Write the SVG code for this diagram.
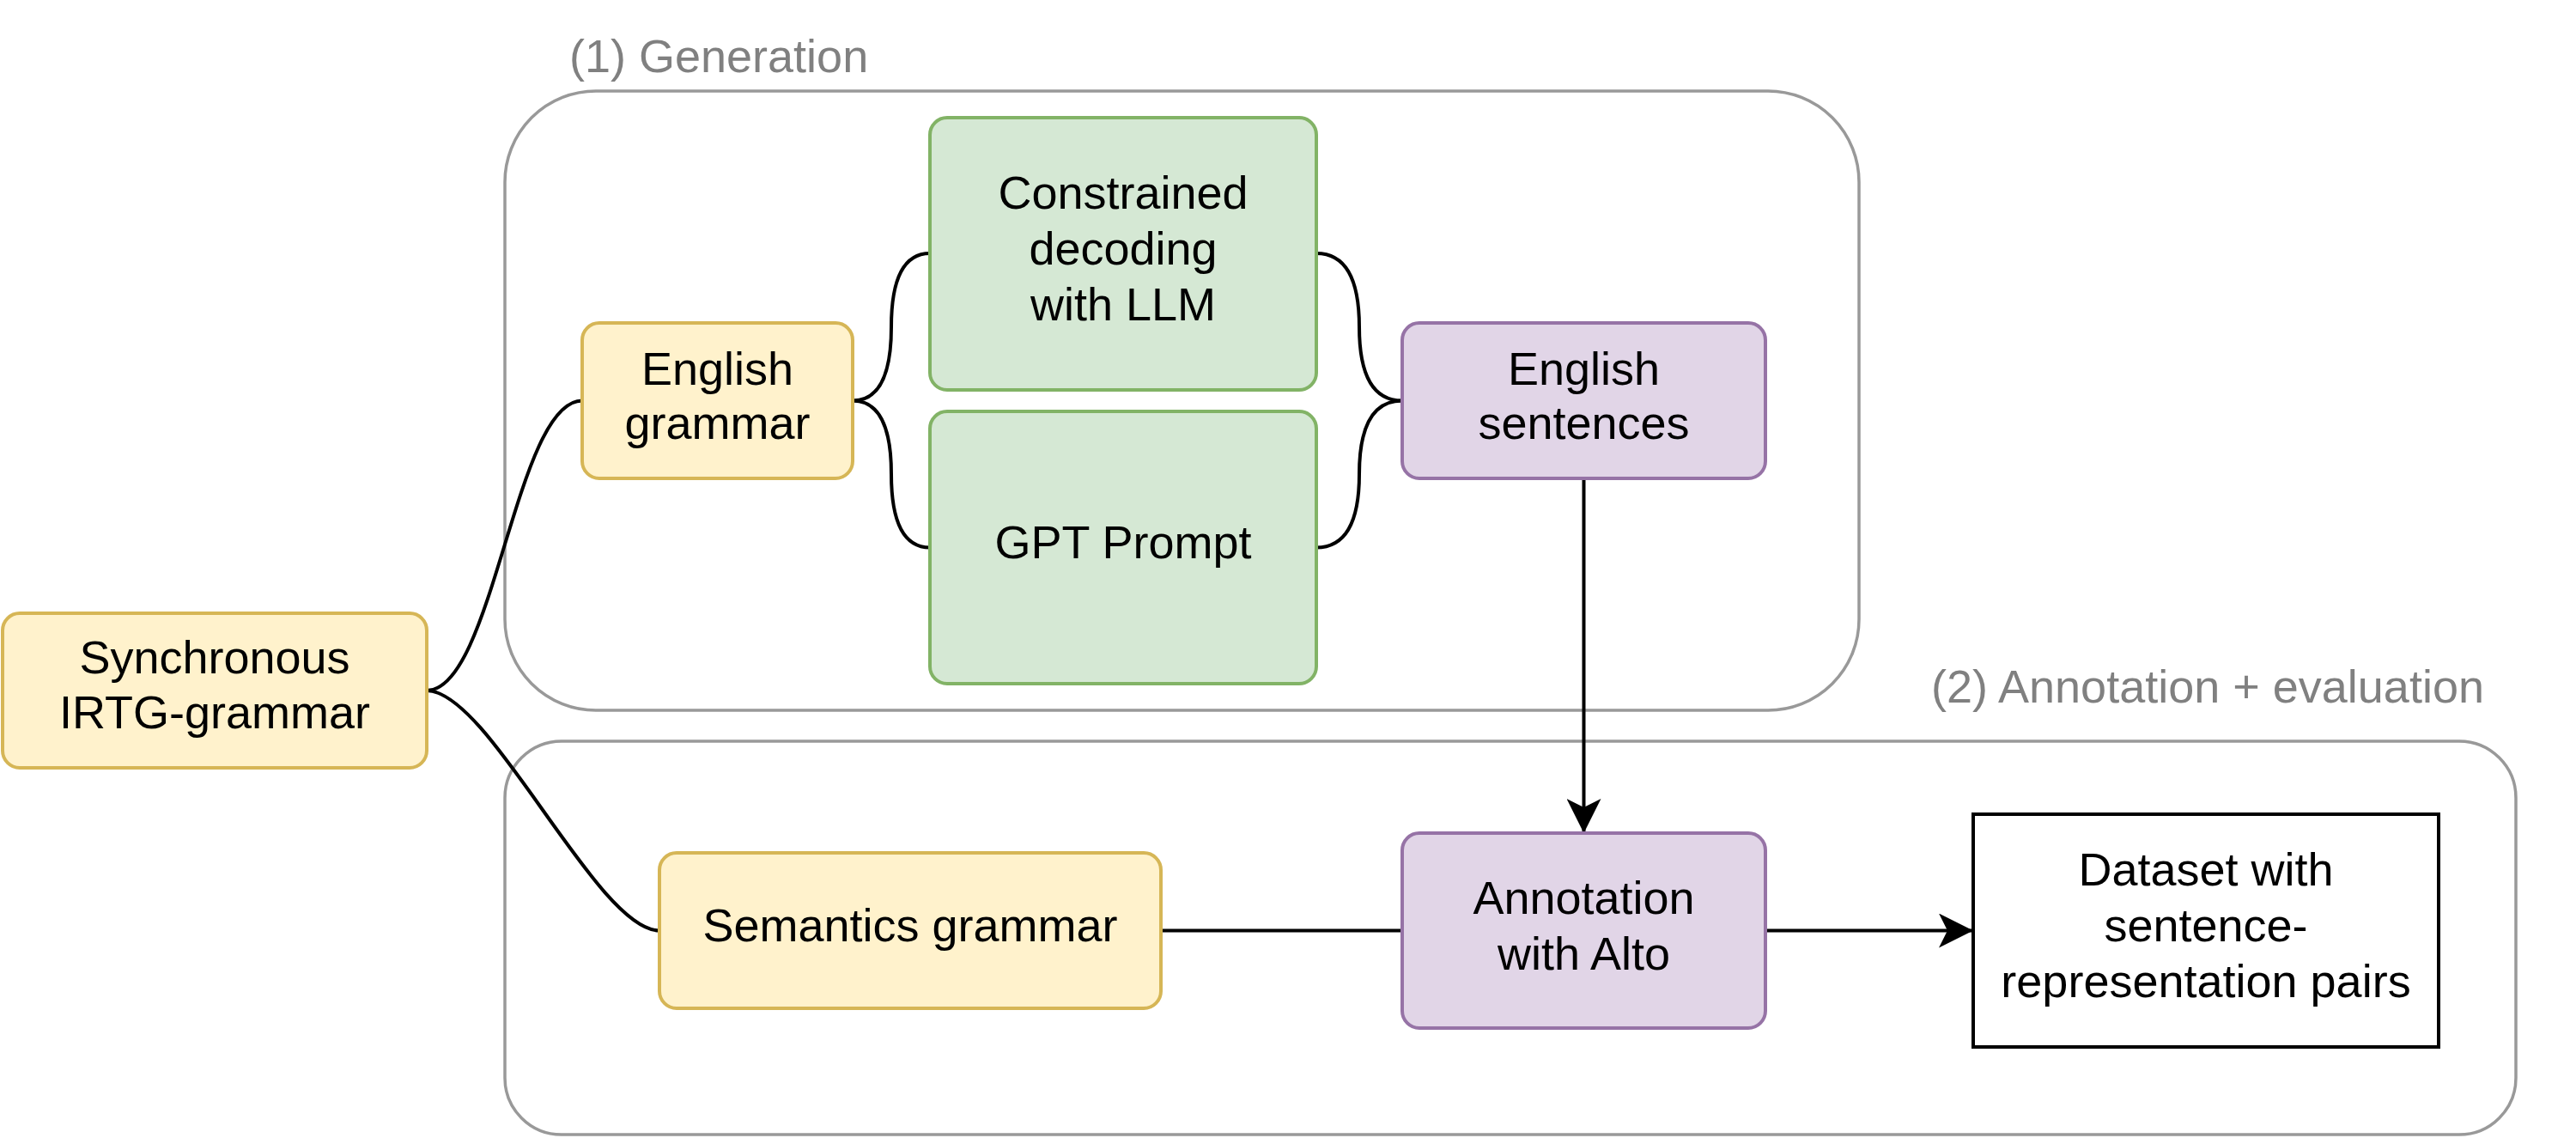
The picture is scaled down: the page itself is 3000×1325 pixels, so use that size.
<svg xmlns="http://www.w3.org/2000/svg" width="3000" height="1325" viewBox="0 0 3000 1325">
<defs>
<style>
text{font-family:"Liberation Sans",Arial,Helvetica,sans-serif;font-size:54px}
.t{fill:#000000;text-anchor:middle}
.g{fill:#808080}
.cont{fill:none;stroke:#999999;stroke-width:3.5}
.yel{fill:#fff2cc;stroke:#d6b656;stroke-width:4}
.grn{fill:#d5e8d4;stroke:#82b366;stroke-width:4}
.pur{fill:#e1d5e7;stroke:#9673a6;stroke-width:4}
.wht{fill:#ffffff;stroke:#000000;stroke-width:4}
.edge{fill:none;stroke:#000000;stroke-width:4}
</style>
<marker id="arr" markerUnits="userSpaceOnUse" markerWidth="40" markerHeight="40" viewBox="0 0 40 40" refX="40" refY="20" orient="auto">
<path d="M0,0 L40,20 L0,40 L10,20 Z" fill="#000000"/>
</marker>
</defs>
<rect width="3000" height="1325" fill="#ffffff"/>

<g id="generation">
<rect class="cont" x="588" y="106" width="1577" height="721" rx="106" ry="106"/>
<text class="g" x="663" y="84">(1) Generation</text>
</g>
<g id="annotation-evaluation">
<rect class="cont" x="588" y="863" width="2342" height="458" rx="66" ry="66"/>
<text class="g" x="2249" y="818">(2) Annotation + evaluation</text>
</g>

<g id="connectors">
<path class="edge" d="M497,804 C575,804 600,466.5 678,466.5"/>
<path class="edge" d="M497,804 C570,804 695,1083.5 768,1083.5"/>
<path class="edge" d="M993,466.5 Q1038,466.5 1038,380.75 Q1038,295 1083,295"/>
<path class="edge" d="M993,466.5 Q1038,466.5 1038,552 Q1038,637.5 1083,637.5"/>
<path class="edge" d="M1533,295 Q1583,295 1583,380.75 Q1583,466.5 1633,466.5"/>
<path class="edge" d="M1533,637.5 Q1583,637.5 1583,552 Q1583,466.5 1633,466.5"/>
<path class="edge" d="M1844.5,557 L1844.5,970" marker-end="url(#arr)"/>
<path class="edge" d="M1352,1083.5 L1633,1083.5"/>
<path class="edge" d="M2056,1083.5 L2298,1083.5" marker-end="url(#arr)"/>
</g>

<g id="synchronous-irtg-grammar">
<rect class="yel" x="3" y="714" width="494" height="180" rx="20" ry="20"/>
<text class="t" x="250" y="784">Synchronous</text>
<text class="t" x="250" y="848">IRTG-grammar</text>
</g>
<g id="english-grammar">
<rect class="yel" x="678" y="376" width="315" height="181" rx="20" ry="20"/>
<text class="t" x="835.5" y="448">English</text>
<text class="t" x="835.5" y="511">grammar</text>
</g>
<g id="constrained-decoding">
<rect class="grn" x="1083" y="137" width="450" height="317" rx="20" ry="20"/>
<text class="t" x="1308" y="243">Constrained</text>
<text class="t" x="1308" y="308">decoding</text>
<text class="t" x="1308" y="373">with LLM</text>
</g>
<g id="gpt-prompt">
<rect class="grn" x="1083" y="479" width="450" height="317" rx="20" ry="20"/>
<text class="t" x="1308" y="650">GPT Prompt</text>
</g>
<g id="english-sentences">
<rect class="pur" x="1633" y="376" width="423" height="181" rx="20" ry="20"/>
<text class="t" x="1844.5" y="448">English</text>
<text class="t" x="1844.5" y="511">sentences</text>
</g>
<g id="semantics-grammar">
<rect class="yel" x="768" y="993" width="584" height="181" rx="20" ry="20"/>
<text class="t" x="1060" y="1096">Semantics grammar</text>
</g>
<g id="annotation-alto">
<rect class="pur" x="1633" y="970" width="423" height="227" rx="20" ry="20"/>
<text class="t" x="1844.5" y="1064">Annotation</text>
<text class="t" x="1844.5" y="1129">with Alto</text>
</g>
<g id="dataset">
<rect class="wht" x="2298" y="948" width="542" height="271"/>
<text class="t" x="2569" y="1031">Dataset with</text>
<text class="t" x="2569" y="1096">sentence-</text>
<text class="t" x="2569" y="1161">representation pairs</text>
</g>
</svg>
